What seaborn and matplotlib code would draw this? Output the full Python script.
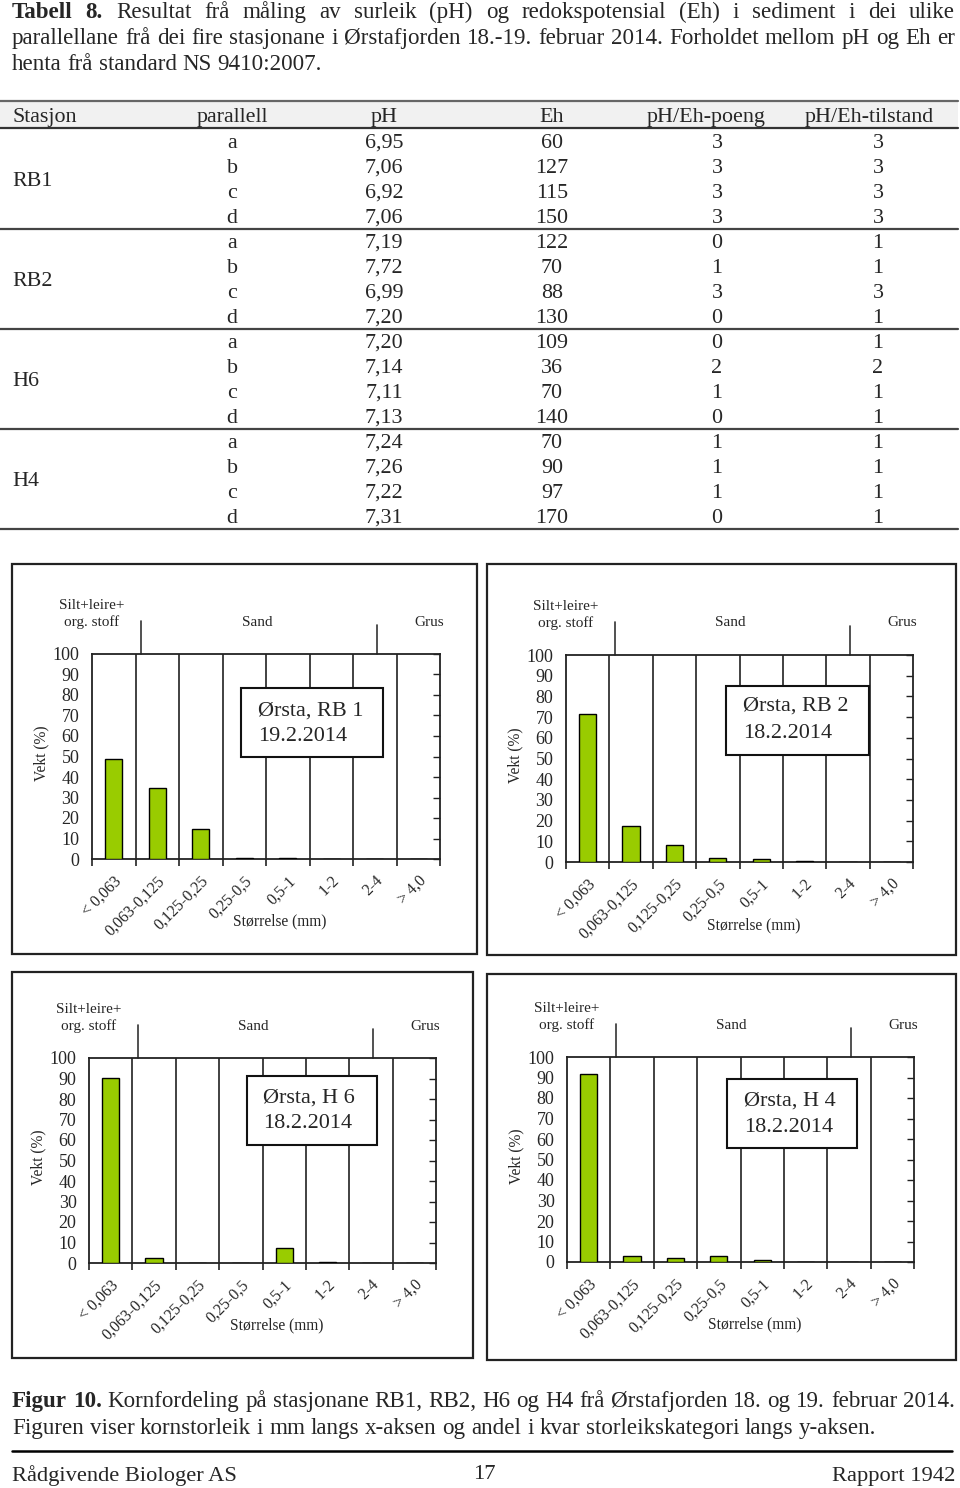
import matplotlib
matplotlib.use("Agg")
import matplotlib.pyplot as plt
import seaborn as sns
import pandas as pd
from matplotlib.patches import Rectangle
from matplotlib.font_manager import FontProperties

sns.set_style("white")
plt.rcParams['font.family'] = ['Liberation Serif', 'DejaVu Serif']

W, H = 960, 1488
SERIF = 'Liberation Serif'

# --- table data ---
stations = ['RB1', 'RB2', 'H6', 'H4']
parallell = ['a', 'b', 'c', 'd'] * 4
ph = ['6,95', '7,06', '6,92', '7,06', '7,19', '7,72', '6,99', '7,20',
      '7,20', '7,14', '7,11', '7,13', '7,24', '7,26', '7,22', '7,31']
eh = [60, 127, 115, 150, 122, 70, 88, 130, 109, 36, 70, 140, 70, 90, 97, 170]
poeng = [3, 3, 3, 3, 0, 1, 3, 0, 0, 2, 1, 0, 1, 1, 1, 0]
tilstand = [3, 3, 3, 3, 1, 1, 3, 1, 1, 2, 1, 1, 1, 1, 1, 1]

# --- grain size data (Vekt %) ---
sizes = ['< 0,063', '0,063-0,125', '0,125-0,25', '0,25-0,5', '0,5-1', '1-2', '2-4', '> 4,0']
rb1 = [48.8, 34.6, 14.6, 0.3, 0.3, 0, 0, 0]
rb2 = [71.5, 17.6, 8.2, 1.9, 1.3, 0.5, 0, 0]
h6 = [90.1, 2.3, 0, 0, 7.3, 0.4, 0, 0]
h4 = [91.9, 2.8, 2.1, 2.8, 1.1, 0, 0, 0]
panel_titles = ['Ørsta, RB 1\n19.2.2014', 'Ørsta, RB 2\n18.2.2014',
                'Ørsta, H 6\n18.2.2014', 'Ørsta, H 4\n18.2.2014']

fig = plt.figure(figsize=(W / 100, H / 100), dpi=100)
rend = fig.canvas.get_renderer()


def fx(x):
    return x / W


def fy(y):
    return 1 - y / H


def text_w(s, size, weight='normal'):
    fp = FontProperties(family=SERIF, size=size, weight=weight)
    return rend.get_text_width_height_descent(s, fp, ismath=False)[0]


def line_text(parts, y, x0=12, x1=None, size=16.6):
    # parts: list of (word, weight); justified if x1 given
    widths = [text_w(w, size, wt) for w, wt in parts]
    if x1 is None:
        gap = text_w('a b', size) - text_w('ab', size)
    else:
        gap = (x1 - x0 - sum(widths)) / (len(parts) - 1)
    x = x0
    for (w, wt), wd in zip(parts, widths):
        fig.text(fx(x), fy(y), w, fontsize=size, fontweight=wt,
                 family=SERIF, va='baseline', ha='left')
        x += wd + gap


def words(s, bold_n=0):
    ws = s.split(' ')
    return [(w, 'bold' if i < bold_n else 'normal') for i, w in enumerate(ws)]


# --- table caption ---
line_text(words('Tabell 8. Resultat frå måling av surleik (pH) og redokspotensial (Eh) i sediment i dei ulike', 2),
          18, 12, 955)
line_text(words('parallellane frå dei fire stasjonane i Ørstafjorden 18.-19. februar 2014. Forholdet mellom pH og Eh er'),
          44, 12, 955)
line_text(words('henta frå standard NS 9410:2007.'), 70, 12)

# --- table ---
fig.patches.append(Rectangle((0, fy(128)), fx(958), (128 - 102) / H,
                             transform=fig.transFigure, facecolor='#f1f1f1',
                             edgecolor='none', zorder=0))
for yy, c in [(101, '#666666'), (128, '#333333'), (229, '#444444'),
              (329, '#444444'), (429, '#444444'), (529, '#444444')]:
    fig.add_artist(plt.Line2D([0, fx(958)], [fy(yy), fy(yy)], color=c, lw=1.6))

tsize = 15.8
heads = [('Stasjon', 12, 'left'), ('parallell', 232, 'center'), ('pH', 384, 'center'),
         ('Eh', 552, 'center'), ('pH/Eh-poeng', 706, 'center'), ('pH/Eh-tilstand', 869, 'center')]
for s, x, ha in heads:
    fig.text(fx(x), fy(122), s, fontsize=tsize, ha=ha, va='baseline')

cols = [(parallell, 232), (ph, 384), (eh, 552), (poeng, 717), (tilstand, 878)]
for i in range(16):
    yb = 148 + 25 * i
    for vals, x in cols:
        fig.text(fx(x), fy(yb), str(vals[i]), fontsize=tsize, ha='center', va='baseline')
for k, st in enumerate(stations):
    fig.text(fx(12), fy(186 + 100 * k), st, fontsize=tsize, ha='left', va='baseline')

# --- charts ---
axes_px = [(92, 440, 654, 859), (566, 913, 655, 862), (89, 436, 1058, 1263), (567, 914, 1057, 1262)]
frames_px = [(12, 477, 564, 954), (487, 956, 564, 955), (12, 473, 972, 1358), (487, 956, 974, 1360)]
boxes = [(0.429, 0.837, 0.496, 0.834, 0.478, 0.72, 0.598),
         (0.460, 0.873, 0.519, 0.852, 0.511, 0.752, 0.621),
         (0.456, 0.831, 0.577, 0.914, 0.502, 0.805, 0.680),
         (0.461, 0.837, 0.554, 0.893, 0.509, 0.783, 0.658)]
series = [rb1, rb2, h6, h4]

for (fx0, fx1, fy0, fy1) in frames_px:
    fig.patches.append(Rectangle((fx(fx0), fy(fy1)), (fx1 - fx0) / W, (fy1 - fy0) / H,
                                 transform=fig.transFigure, facecolor='none',
                                 edgecolor='#222222', lw=1.6))

for vals, (x0, x1, y0, y1), box, title in zip(series, axes_px, boxes, panel_titles):
    ax = fig.add_axes([fx(x0), fy(y1), (x1 - x0) / W, (y1 - y0) / H])
    df = pd.DataFrame({'size': sizes, 'vekt': vals})
    ax.vlines([i + 0.5 for i in range(7)], 0, 100, color='#333333', lw=1.3, zorder=1)
    sns.barplot(data=df, x='size', y='vekt', order=sizes, color='#99cc00', saturation=1,
                edgecolor='black', linewidth=1.0, width=0.4, ax=ax, zorder=3)
    ax.set_xlim(-0.5, 7.5)
    ax.set_ylim(0, 100)
    ax.set_xlabel('')
    ax.set_ylabel('')
    ax.set_yticks(range(0, 101, 10))
    ax.set_yticklabels([str(v) for v in range(0, 101, 10)], fontsize=13)
    ax.tick_params(axis='y', left=False, right=True, direction='in', length=5,
                   width=1, color='#222222', pad=9)
    ax.set_xticks(range(8))
    ax.set_xticklabels(sizes, rotation=45, ha='right', rotation_mode='anchor', fontsize=11.5)
    ax.set_xticks([i - 0.5 for i in range(9)], minor=True)
    ax.tick_params(axis='x', which='major', length=0, pad=10)
    ax.tick_params(axis='x', which='minor', bottom=True, direction='out', length=5,
                   width=1.2, color='#222222')
    for sp in ax.spines.values():
        sp.set_color('#222222')
        sp.set_linewidth(1.3)
        sp.set_visible(True)

    ax.text(-0.145, 0.517, 'Vekt (%)', rotation=90, transform=ax.transAxes,
            fontsize=11.2, ha='center', va='center')
    ax.text(0.54, -0.305, 'Størrelse (mm)', transform=ax.transAxes,
            fontsize=11.2, ha='center', va='center')

    tr = ax.get_xaxis_transform()
    ax.text(-0.5, 1.235, 'Silt+leire+', transform=tr, fontsize=11, ha='center', va='center')
    ax.text(-0.5, 1.155, 'org. stoff', transform=tr, fontsize=11, ha='center', va='center')
    ax.text(3.29, 1.155, 'Sand', transform=tr, fontsize=11, ha='center', va='center')
    ax.text(7.25, 1.155, 'Grus', transform=tr, fontsize=11, ha='center', va='center')
    ax.plot([0.62, 0.62], [1.0, 1.16], transform=tr, color='#333333', lw=1.2, clip_on=False)
    ax.plot([6.05, 6.05], [1.0, 1.14], transform=tr, color='#333333', lw=1.2, clip_on=False)

    bx0, bx1, by0, by1, tx, ty1, ty2 = box
    ax.add_patch(Rectangle((bx0, by0), bx1 - bx0, by1 - by0, transform=ax.transAxes,
                           facecolor='white', edgecolor='#111111', lw=1.5, zorder=5))
    l1, l2 = title.split('\n')
    ax.text(tx, ty1, l1, transform=ax.transAxes, fontsize=16, ha='left', va='center', zorder=6)
    ax.text(tx, ty2, l2, transform=ax.transAxes, fontsize=16, ha='left', va='center', zorder=6)

# --- figure caption and footer ---
line_text(words('Figur 10. Kornfordeling på stasjonane RB1, RB2, H6 og H4 frå Ørstafjorden 18. og 19. februar 2014.', 2),
          1407, 12, 955)
line_text(words('Figuren viser kornstorleik i mm langs x-aksen og andel i kvar storleikskategori langs y-aksen.'),
          1434, 12)
fig.add_artist(plt.Line2D([fx(12), fx(952)], [fy(1451), fy(1451)], color='black', lw=1.8))
fig.text(fx(12), fy(1481), 'Rådgivende Biologer AS', fontsize=16.2, ha='left', va='baseline')
fig.text(fx(484), fy(1479), '17', fontsize=16.2, ha='center', va='baseline')
fig.text(fx(955), fy(1481), 'Rapport 1942', fontsize=16.2, ha='right', va='baseline')

fig.savefig('out.png', dpi=100)
plt.close(fig)
